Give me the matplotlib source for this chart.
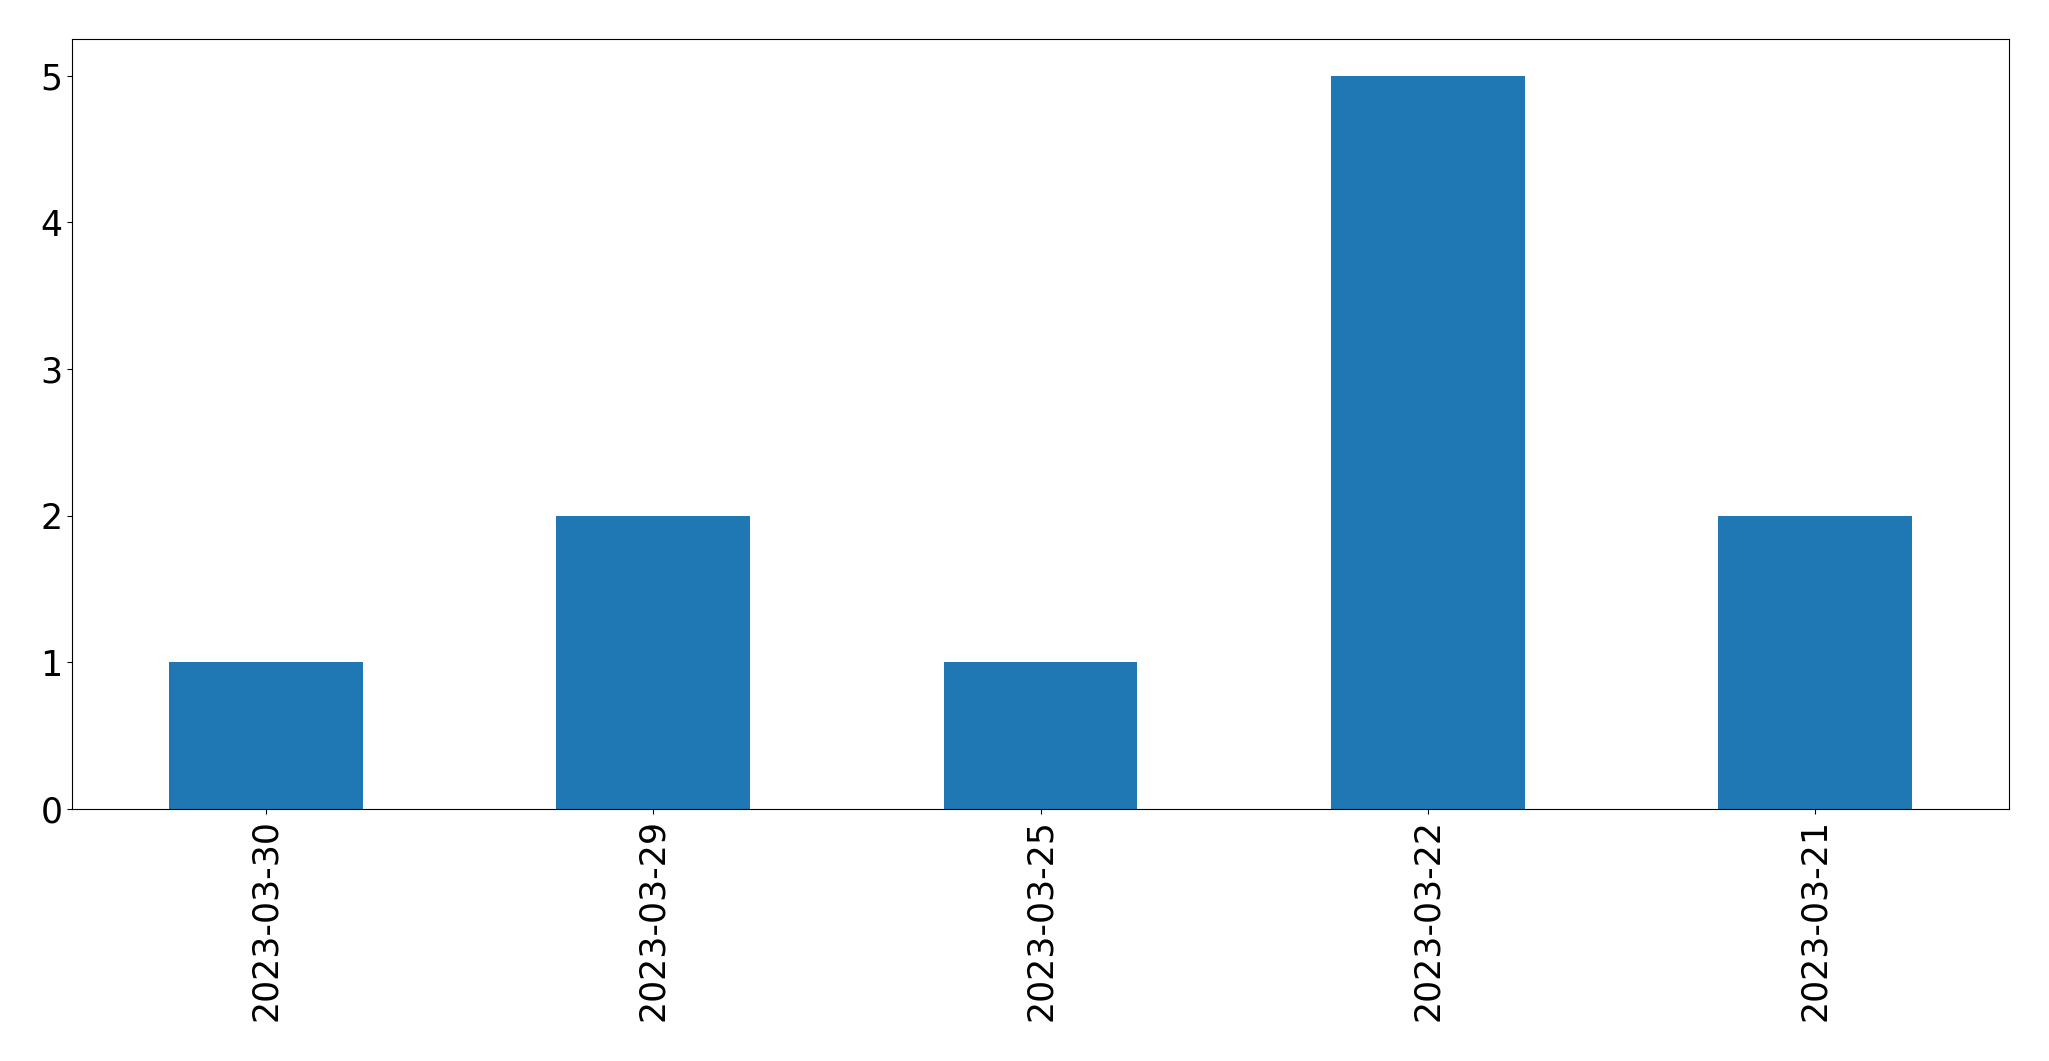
import matplotlib
matplotlib.use("Agg")
import matplotlib.pyplot as plt

dates = ["2023-03-30", "2023-03-29", "2023-03-25", "2023-03-22", "2023-03-21"]
counts = [1, 2, 1, 5, 2]

fig = plt.figure(figsize=(20.49, 10.61), dpi=100)
ax = fig.add_axes([72/2049, 1-809/1061, (2009-72)/2049, (809-39)/1061])
x = list(range(len(dates)))
ax.bar(x, counts, width=0.5, color="#1f77b4")
ax.set_xticks(x)
ax.set_xticklabels(dates, rotation=90)
ax.set_xlim(-0.5, len(dates) - 0.5)
ax.set_ylim(0, 5.25)
ax.tick_params(labelsize=25)
fig.savefig("out.png", dpi=100)
